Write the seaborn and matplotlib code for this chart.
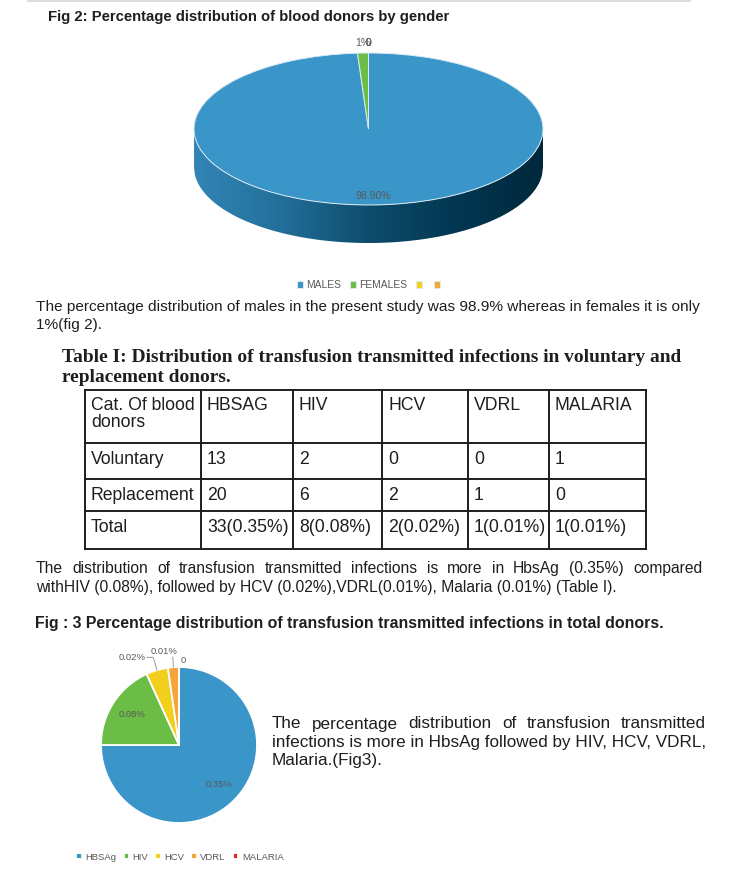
import matplotlib
matplotlib.use("Agg")
import matplotlib.pyplot as plt
import seaborn as sns
import numpy as np
from matplotlib.colors import LinearSegmentedColormap
from matplotlib.patches import Polygon

W, H = 745, 869

# ---- data ----
gender_labels = ["MALES", "FEMALES", "", ""]
gender_pct = [98.9, 1.0, 0, 0]
gender_text = ["98.90%", "1%", "0", "0"]
gender_colors = ["#3a96c9", "#6cbd45", "#f5cf1d", "#f7a43a"]

table_header = ["Cat. Of blood", "HBSAG", "HIV", "HCV", "VDRL", "MALARIA"]
donor_types = ["Voluntary", "Replacement", "Total"]
voluntary = [13, 2, 0, 0, 1]
replacement = [20, 6, 2, 1, 0]
total_pct = [0.35, 0.08, 0.02, 0.01, 0.01]

tti_labels = ["HBSAg", "HIV", "HCV", "VDRL", "MALARIA"]
tti_counts = [33, 8, 2, 1, 0]
tti_text = ["0.35%", "0.08%", "0.02%", "0.01%", "0"]
tti_colors = ["#3a96c9", "#6cbd45", "#f2cf1d", "#f7a43a", "#e8262b"]

sns.set_theme(style="white")
plt.rcParams["font.family"] = ["Liberation Sans", "DejaVu Sans"]
INK = "#1e1e1e"
GREY = "#595959"

fig = plt.figure(figsize=(W / 100, H / 100), dpi=100)
page = fig.add_axes([0, 0, 1, 1])
page.set_xlim(0, W)
page.set_ylim(H, 0)
page.axis("off")
rend = fig.canvas.get_renderer()


def text_width(s, **kw):
    t = page.text(0, 0, s, **kw)
    w = t.get_window_extent(renderer=rend).width
    t.remove()
    return w


def fit_size(s, target, **kw):
    return 10 * target / text_width(s, fontsize=10, **kw)


def line(s, x0, y, x1=None, **kw):
    # x1 given -> justified between x0 and x1
    if x1 is None:
        page.text(x0, y, s, va="baseline", **kw)
        return
    words = s.split()
    ws = [text_width(w, **kw) for w in words]
    gap = (x1 - x0 - sum(ws)) / (len(words) - 1)
    x = x0
    for w, wd in zip(words, ws):
        page.text(x, y, w, va="baseline", **kw)
        x += wd + gap


def px_axes(cx, cy, sx, sy, xlim, ylim):
    left, right = cx + xlim[0] * sx, cx + xlim[1] * sx
    top, bottom = cy - ylim[1] * sy, cy - ylim[0] * sy
    return fig.add_axes([left / W, 1 - bottom / H, (right - left) / W, (bottom - top) / H])


# faint rule at the very top
page.plot([28, 690], [0.8, 0.8], color="#dcdcdc", lw=1.5)

# ---- Fig 2 title ----
t = "Fig 2: Percentage distribution of blood donors by gender"
line(t, 48, 21, fontsize=fit_size(t, 404, weight="bold"), weight="bold", color=INK)

# ---- 3D gender pie ----
depth = 0.5
xl1, yl1 = (-1.1, 1.1), (-1.6, 1.25)
ax1 = px_axes(368.5, 129, 174.5, 76, xl1, yl1)
xs = np.linspace(-1, 1, 400)
band = np.column_stack([np.r_[xs, xs[::-1]],
                        np.r_[-np.sqrt(1 - xs ** 2), -np.sqrt(1 - xs[::-1] ** 2) - depth]])
side_cmap = LinearSegmentedColormap.from_list(
    "side", ["#3385b6", "#226f9a", "#0e4c6c", "#023752", "#00283b"])
im = ax1.imshow(np.linspace(0, 1, 256)[None, :], extent=(-1, 1, -1 - depth, 0),
                aspect="auto", cmap=side_cmap, zorder=0.5)
clip = Polygon(band, closed=True, transform=ax1.transData, facecolor="none", edgecolor="none")
ax1.add_patch(clip)
im.set_clip_path(clip)
wedges1, _ = ax1.pie(gender_pct, colors=gender_colors, startangle=90, counterclock=False,
                     wedgeprops=dict(edgecolor="#dceaf2", linewidth=0.7))
ax1.set_aspect("auto")
ax1.set_xlim(*xl1)
ax1.set_ylim(*yl1)
ax1.axis("off")
for i, w in enumerate(wedges1):
    a = np.deg2rad((w.theta1 + w.theta2) / 2)
    r = 0.88 if i == 0 else 1.13
    ax1.text(r * np.cos(a), r * np.sin(a), gender_text[i], ha="center", va="center",
             fontsize=7.5, color=GREY)
ax1.legend(wedges1, gender_labels, loc="center", bbox_to_anchor=(370 / W, 1 - 285 / H),
           bbox_transform=fig.transFigure, ncol=4, frameon=False, fontsize=7.4,
           handlelength=0.6, handleheight=0.6, handletextpad=0.35, columnspacing=0.8,
           labelcolor=GREY)

# ---- paragraph 1 ----
p1 = "The percentage distribution of males in the present study was 98.9% whereas in females it is only"
fs1 = fit_size(p1, 665)
line(p1, 36, 311, fontsize=fs1, color=INK)
line("1%(fig 2).", 36, 329, fontsize=fs1, color=INK)

# ---- table title ----
tt1 = "Table I: Distribution of transfusion transmitted infections in voluntary and"
serif_kw = dict(family=["Liberation Serif", "DejaVu Serif"], weight="bold")
fst = fit_size(tt1, 621, **serif_kw)
line(tt1, 62, 361.5, fontsize=fst, color=INK, **serif_kw)
line("replacement donors.", 62, 382, fontsize=fst, color=INK, **serif_kw)

# ---- table ----
col_x = [85, 201, 293, 382, 468, 549, 646]
row_y = [390, 443, 479, 511, 549]
for x in col_x:
    page.plot([x, x], [row_y[0], row_y[-1]], color=INK, lw=1.4, solid_capstyle="projecting")
for y in row_y:
    page.plot([col_x[0], col_x[-1]], [y, y], color=INK, lw=1.4, solid_capstyle="projecting")

fst_cell = fit_size("Replacement", 104)
totals = [f"{v + r}({p:.2f}%)" for v, r, p in zip(voluntary, replacement, total_pct)]
body = [[donor_types[0]] + [str(v) for v in voluntary],
        [donor_types[1]] + [str(v) for v in replacement],
        [donor_types[2]] + totals]
for j, h in enumerate(table_header):
    line(h, col_x[j] + 6, row_y[0] + 20, fontsize=fst_cell, color=INK)
line("donors", col_x[0] + 6, row_y[0] + 37, fontsize=fst_cell, color=INK)
for i, row in enumerate(body):
    for j, cell in enumerate(row):
        line(cell, col_x[j] + 6, row_y[i + 1] + 21, fontsize=fst_cell, color=INK)

# ---- paragraph 2 (narrow face) ----
narrow = dict(family=["Liberation Sans Narrow", "Liberation Sans", "DejaVu Sans"])
p2a = "The distribution of transfusion transmitted infections is more in HbsAg (0.35%) compared"
p2b = "withHIV (0.08%), followed by HCV (0.02%),VDRL(0.01%), Malaria (0.01%) (Table I)."
fs2 = fit_size(p2b, 583, **narrow)
line(p2a, 36, 573, 702, fontsize=fs2, color=INK, **narrow)
line(p2b, 36, 592, fontsize=fs2, color=INK, **narrow)

# ---- Fig 3 title ----
t3 = "Fig : 3 Percentage distribution of transfusion transmitted infections in total donors."
line(t3, 35, 628, fontsize=fit_size(t3, 630, weight="bold"), weight="bold", color=INK)

# ---- TTI pie ----
xl2 = (-1.3, 1.3)
ax2 = px_axes(179, 745, 78, 78, xl2, xl2)
wedges2, _ = ax2.pie(tti_counts, colors=tti_colors, startangle=90, counterclock=False,
                     wedgeprops=dict(edgecolor="white", linewidth=1.3))
ax2.set_aspect("auto")
ax2.set_xlim(*xl2)
ax2.set_ylim(*xl2)
ax2.axis("off")
lead = dict(color="#a6a6a6", lw=0.8)
lab = dict(fontsize=6.8, color=GREY)
for i, w in enumerate(wedges2):
    a = np.deg2rad((w.theta1 + w.theta2) / 2)
    c, s = np.cos(a), np.sin(a)
    if i < 2:
        ax2.text(0.72 * c, 0.72 * s, tti_text[i], ha="center", va="center", **lab)
    elif i == 2:
        ex, ey = 1.17 * c, 1.17 * s
        ax2.plot([c, ex, ex - 0.08], [s, ey, ey], **lead)
        ax2.text(ex - 0.1, ey, tti_text[i], ha="right", va="center", **lab)
    elif i == 3:
        ex, ey = 1.13 * c, 1.13 * s
        ax2.plot([c, ex], [s, ey], **lead)
        ax2.text(ex - 0.11, ey + 0.07, tti_text[i], ha="center", va="center", **lab)
    else:
        ax2.text(1.08 * c + 0.02, 1.08 * s, tti_text[i], ha="left", va="center", **lab)
ax2.legend(wedges2, tti_labels, loc="center", bbox_to_anchor=(180 / W, 1 - 857 / H),
           bbox_transform=fig.transFigure, ncol=5, frameon=False, fontsize=6.8,
           handlelength=0.6, handleheight=0.6, handletextpad=0.35, columnspacing=0.75,
           labelcolor=GREY)

# ---- side text next to Fig 3 ----
s1 = "The percentage distribution of transfusion transmitted"
s2 = "infections is more in HbsAg followed by HIV, HCV, VDRL,"
fs3 = fit_size(s2, 434)
line(s1, 272, 728.5, 706, fontsize=fs3, color=INK)
line(s2, 272, 746.5, fontsize=fs3, color=INK)
line("Malaria.(Fig3).", 272, 765, fontsize=fs3, color=INK)

fig.savefig("out.png", dpi=100)
